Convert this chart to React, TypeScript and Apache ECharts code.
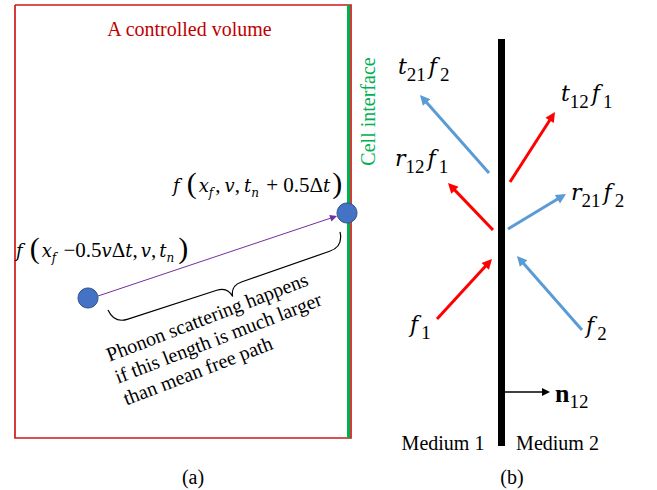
import React, { useEffect, useRef } from 'react';
import * as echarts from 'echarts';

const W = 657;
const H = 490;
const FAM = '"Liberation Serif", "Times New Roman", serif';
const IFAM = '"DejaVu Serif", serif';
const font = (size: number, style = 'normal', weight = 'normal') => `${style} ${weight} ${size}px ${FAM}`;
const ifont = (size: number) => `italic normal ${size}px ${IFAM}`;

// ---------- Panel (a) ----------
const volumeOutline = [[15, 5], [351, 5], [351, 438], [15, 438], [15, 5]];
const cellInterface = [[348, 5], [348, 438]];
const particlePoints = [[88, 298], [347, 213]];
const flightStart = [98, 296];
const flightEnd = [337, 216];
const braceStart = [108, 310];
const braceEnd = [340, 232];
const phononNote = ['Phonon scattering happens', 'if this length is much larger', 'than mean free path'];

// ---------- Panel (b) ----------
const wall = [[501.5, 39], [501.5, 446]];
const waveNames = ['f1', 'f2', 'r12f1', 't12f1', 'r21f2', 't21f2'];
const waveFrom = [[437, 319], [582, 330], [493, 230], [510, 182], [508, 229], [489, 173]];
const waveTo = [[492, 259], [517, 256], [448, 183], [555, 112], [566, 194], [420, 95]];
const waveMedium = [1, 2, 1, 1, 2, 2];
const normalFrom = [505, 392];
const normalTo = [550, 392];
const mediumNames = ['Medium 1', 'Medium 2'];
const panelTags = ['(a)', '(b)'];

// label pieces: [main, sub, main, sub]
const waveLabelParts = [
  ['', '', 'f', '1'],
  ['', '', 'f', '2'],
  ['r', '12', 'f', '1'],
  ['t', '12', 'f', '1'],
  ['r', '21', 'f', '2'],
  ['t', '21', 'f', '2'],
];
const waveLabelAnchor = [
  [407, 324],
  [583, 325],
  [395, 158],
  [561, 93],
  [571, 192.5],
  [398, 66],
];

const COLORS = { 1: '#FF0000', 2: '#5B9BD5' } as Record<number, string>;

// brace shape (local frame: along +x, bulging toward +y)
const braceLen = Math.hypot(braceEnd[0] - braceStart[0], braceEnd[1] - braceStart[1]);
const braceAngle = -Math.atan2(braceEnd[1] - braceStart[1], braceEnd[0] - braceStart[0]);
const L = braceLen;
const h = L / 2;
const braceD = `M0,0 C1,9 6,15 16,15 L${h - 13},16 C${h - 5},16 ${h - 1},20 ${h},27 C${h + 1},20 ${h + 5},16 ${h + 13},16 L${L - 16},15 C${L - 6},15 ${L - 1},9 ${L},0`;
echarts.graphic.registerShape('brace', echarts.graphic.extendPath(braceD, {}));

function shorten(from: number[], to: number[], d: number) {
  const dx = to[0] - from[0];
  const dy = to[1] - from[1];
  const len = Math.hypot(dx, dy);
  return [to[0] - (dx / len) * d, to[1] - (dy / len) * d];
}

const richA = {
  i: { font: ifont(18), lineHeight: 32, fill: '#000' },
  fi: { font: ifont(18), lineHeight: 32, fill: '#000', padding: [0, 5, 0, 1] },
  n: { font: font(21), lineHeight: 32, fill: '#000' },
  c: { font: font(21), lineHeight: 32, fill: '#000', padding: [0, 4, 0, 0] },
  c2: { font: font(21), lineHeight: 32, fill: '#000', padding: [0, 3, 0, 0] },
  p: { font: font(30), lineHeight: 32, fill: '#000', padding: [0, 2, 6, 2] },
  s: { font: ifont(12), lineHeight: 32, fill: '#000', padding: [15, 2, 0, 0] },
};

const richB = {
  m: { font: ifont(22), lineHeight: 36, fill: '#000' },
  f: { font: ifont(22), lineHeight: 36, fill: '#000', padding: [0, 3, 0, 3] },
  s: { font: font(19), lineHeight: 36, fill: '#000', padding: [16, 0, 0, 0] },
  b: { font: font(26, 'normal', 'bold'), lineHeight: 36, fill: '#000' },
};

function waveRich(parts: string[]) {
  let s = '';
  if (parts[0]) s += `{m|${parts[0]}}{s|${parts[1]}}`;
  s += `{f|${parts[2]}}{s|${parts[3]}}`;
  return s;
}

function plainText(text: string, x: number, y: number, extra: any = {}) {
  return {
    type: 'text',
    x,
    y,
    rotation: extra.rotation || 0,
    z: 10,
    style: {
      text,
      font: font(extra.fontSize || 19),
      fill: extra.fill || '#000',
      align: extra.align || 'center',
      textAlign: extra.align || 'center',
      verticalAlign: extra.verticalAlign || 'middle',
      textVerticalAlign: extra.verticalAlign || 'middle',
    },
  };
}

function richText(text: string, rich: any, x: number, y: number) {
  return {
    type: 'text', x, y, z: 10,
    style: {
      text, rich, font: font(21),
      align: 'left', textAlign: 'left', verticalAlign: 'middle', textVerticalAlign: 'middle',
    },
  };
}

export default function App() {
  const ref = useRef<HTMLDivElement>(null);

  useEffect(() => {
    const chart = echarts.init(ref.current!, null, { renderer: 'svg', width: W, height: H });

    const waveData = waveNames.map((name, k) => ({
      name,
      coords: [waveFrom[k], shorten(waveFrom[k], waveTo[k], 5)],
      lineStyle: { color: COLORS[waveMedium[k]], width: 3 },
    }));

    const series: any[] = [
      {
        type: 'lines', coordinateSystem: 'cartesian2d', polyline: true, silent: true, z: 2,
        symbol: 'none',
        lineStyle: { color: '#D01818', width: 1.7, opacity: 1 },
        data: [{ coords: volumeOutline }],
      },
      {
        type: 'lines', coordinateSystem: 'cartesian2d', silent: true, z: 3,
        symbol: 'none',
        lineStyle: { color: '#00B050', width: 3, opacity: 1 },
        data: [{ coords: cellInterface }],
      },
      {
        type: 'lines', coordinateSystem: 'cartesian2d', silent: true, z: 3,
        symbol: 'none',
        lineStyle: { color: '#000', width: 7, opacity: 1 },
        data: [{ coords: wall }],
      },
      {
        type: 'lines', coordinateSystem: 'cartesian2d', silent: true, z: 4,
        symbol: ['none', 'triangle'], symbolSize: [10, 10],
        lineStyle: { width: 3, opacity: 1 },
        data: waveData,
      },
      {
        type: 'lines', coordinateSystem: 'cartesian2d', silent: true, z: 4,
        symbol: ['none', 'triangle'], symbolSize: [6, 7],
        lineStyle: { color: '#7030A0', width: 1, opacity: 1 },
        data: [{ coords: [flightStart, shorten(flightStart, flightEnd, 3.5)] }],
      },
      {
        type: 'lines', coordinateSystem: 'cartesian2d', silent: true, z: 4,
        symbol: ['none', 'triangle'], symbolSize: [7, 8],
        lineStyle: { color: '#000', width: 1.6, opacity: 1 },
        data: [{ coords: [normalFrom, shorten(normalFrom, normalTo, 4)] }],
      },
      {
        type: 'scatter', silent: true, z: 6,
        symbol: 'circle', symbolSize: 20,
        itemStyle: { color: '#4472C4', borderColor: '#2F528F', borderWidth: 1, opacity: 1 },
        data: particlePoints,
      },
    ];

    chart.setOption({
      animation: false,
      backgroundColor: '#fff',
      grid: { left: 0, right: 0, top: 0, bottom: 0 },
      xAxis: { type: 'value', min: 0, max: W, show: false },
      yAxis: { type: 'value', min: 0, max: H, inverse: true, show: false },
      series,
    });

    const px = (p: number[]) => chart.convertToPixel({ gridIndex: 0 }, p) as number[];

    const bs = px(braceStart);
    const graphics: any[] = [];

    const cv = px([189.5, 29]);
    graphics.push(plainText('A controlled volume', cv[0], cv[1], { fill: '#C00000', fontSize: 20 }));
    const ci = px([368, 111.5]);
    graphics.push(plainText('Cell interface', ci[0], ci[1], { fill: '#00B050', fontSize: 20, rotation: Math.PI / 2 }));

    const m1 = px([172, 185]);
    graphics.push(richText('{fi|f}{p|(}{i|x}{s|f}{c|,}{i|v}{c|,}{i|t}{s|n}{n| + 0.5Δ}{i|t}{p|)}', richA, m1[0], m1[1]));
    const m2 = px([15, 250]);
    graphics.push(richText('{fi|f}{p|(}{i|x}{s|f}{n| −0.5}{i|v}{n|Δ}{i|t}{c2|,}{i|v}{c2|,}{i|t}{s|n}{p|)}', richA, m2[0], m2[1]));

    // rotated note, one element per line (line spacing along the text's normal)
    const rot = 0.367;
    const nx = Math.sin(rot);
    const ny = Math.cos(rot);
    phononNote.forEach((line, k) => {
      const p = px([103.5 + nx * 23.4 * k, 346 + ny * 23.4 * k]);
      graphics.push(plainText(line, p[0], p[1], { align: 'left', verticalAlign: 'top', fontSize: 20, rotation: rot }));
    });

    graphics.push({
      type: 'brace', x: bs[0], y: bs[1], rotation: braceAngle, z: 10,
      style: { fill: 'none', stroke: '#000', lineWidth: 1.2 },
    });

    waveLabelParts.forEach((parts, k) => {
      const a = px(waveLabelAnchor[k]);
      graphics.push(richText(waveRich(parts), richB, a[0], a[1]));
    });

    const nl = px([555, 393]);
    graphics.push(richText('{b|n}{s|12}', richB, nl[0], nl[1]));

    const md1 = px([443, 443]);
    const md2 = px([557.5, 443]);
    graphics.push(plainText(mediumNames[0], md1[0], md1[1], { fontSize: 20 }));
    graphics.push(plainText(mediumNames[1], md2[0], md2[1], { fontSize: 20 }));
    const ta = px([193, 477]);
    const tb = px([512, 477]);
    graphics.push(plainText(panelTags[0], ta[0], ta[1], { fontSize: 20 }));
    graphics.push(plainText(panelTags[1], tb[0], tb[1], { fontSize: 20 }));

    chart.setOption({ graphic: { elements: graphics } });

    return () => chart.dispose();
  }, []);

  return (
    <div
      ref={ref}
      style={{ position: 'fixed', left: 0, top: 0, width: W, height: H, background: '#fff' }}
    />
  );
}
